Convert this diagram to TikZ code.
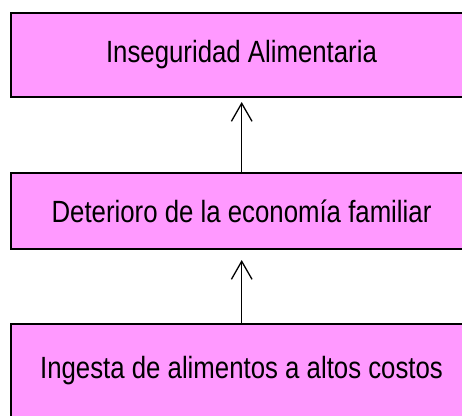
\documentclass[tikz,border=0pt]{standalone}
\usepackage{fontspec}
\usetikzlibrary{arrows.meta}
\newfontfamily\boxfont[FakeStretch=0.84]{Liberation Sans}
\definecolor{boxpink}{RGB}{255,153,255}
\tikzset{
    causebox/.style={draw, line width=2pt, fill=boxpink, rectangle,
        minimum width=461pt, inner sep=0pt,
        font=\boxfont\fontsize{30.7}{36}\selectfont},
    causearrow/.style={-{Straight Barb[length=18pt, width=20.6pt]}, line width=1.3pt}
}
\begin{document}
\begin{tikzpicture}[x=1pt, y=-1pt]
        \useasboundingbox (0,0) rectangle (462,415);
        \clip (0,0) rectangle (462,415);
        % --- Draw the three boxes ---
        \node[causebox, minimum height=84pt] (inseguridad) at (241.5,55) {Inseguridad Alimentaria};
        \node[causebox, minimum height=76pt] (deterioro) at (241.5,211) {Deterioro de la econom\'ia familiar};
        \node[causebox, minimum height=93pt] (ingesta) at (241.5,370.5) {Ingesta de alimentos a altos costos};
        % ---

        % --- Draw the arrows between them ---
        \draw[causearrow, shorten >=4pt] (deterioro.north -| 241.7,0) -- (inseguridad.south -| 241.7,0);
        \draw[causearrow, shorten >=10pt] (ingesta.north -| 241.7,0) -- (deterioro.south -| 241.7,0);
        % ---
\end{tikzpicture}
\end{document}
